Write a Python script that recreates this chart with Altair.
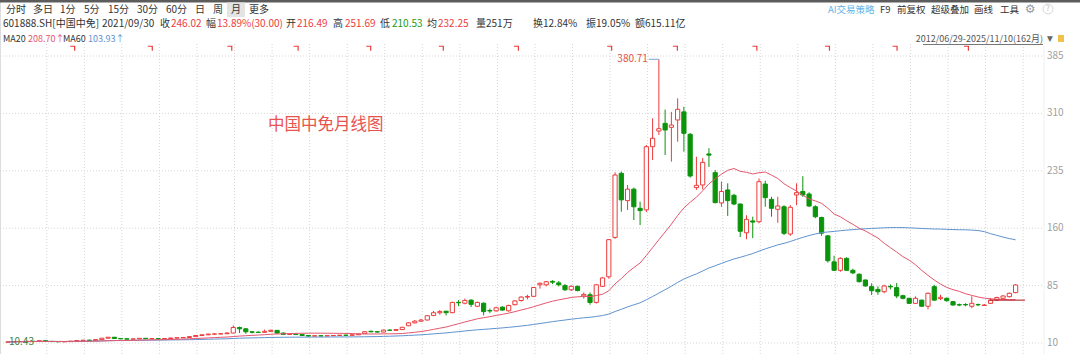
import altair as alt
import pandas as pd

# ---------------- data (monthly, index 0 = 2012-06 ... 161 = 2025-11) -------------
opens = [11.0, 11.5, 11.7, 11.9, 12.2, 12.0, 13.0, 12.1, 11.8, 11.6,
         11.8, 12.4, 13.2, 13.6, 13.4, 14.4, 16.3, 17.5, 15.8, 15.4,
         15.0, 15.3, 16.1, 15.5, 15.7, 15.4, 15.8, 16.5, 16.8, 17.2,
         18.3, 19.8, 20.7, 21.6, 21.8, 22.1, 23.0, 30.2, 28.5, 24.6,
         24.0, 23.9, 25.2, 26.5, 23.0, 21.3, 21.5, 21.0, 19.8, 19.0,
         19.4, 19.2, 19.5, 19.8, 20.2, 20.0, 20.7, 22.5, 25.3, 24.8,
         24.3, 26.8, 26.5, 27.5, 32.5, 36.3, 38.5, 40.0, 46.0, 49.5,
         51.5, 49.6, 63.2, 62.0, 66.0, 58.0, 62.0, 52.5, 52.0, 56.8,
         52.0, 60.0, 65.5, 70.0, 71.0, 86.0, 86.0, 90.5, 88.5, 85.0,
         79.5, 84.0, 71.5, 73.0, 63.0, 84.0, 96.5, 148.0, 231.7, 196.0,
         211.0, 186.0, 184.0, 266.5, 287.0, 297.0, 291.8, 301.4, 312.0, 282.7,
         213.0, 216.49, 257.0, 232.6, 193.0, 210.0, 203.0, 191.6, 154.0, 169.5,
         168.5, 217.7, 197.7, 184.7, 188.0, 152.4, 203.4, 208.0, 204.7, 188.0,
         174.0, 150.0, 116.0, 105.0, 120.6, 105.0, 99.8, 92.3, 83.6, 80.0,
         77.0, 84.0, 82.3, 71.8, 68.4, 61.8, 66.0, 58.0, 83.6, 68.0,
         68.4, 64.0, 60.0, 60.3, 58.0, 60.2, 59.0, 61.8, 66.0, 68.4,
         70.5, 75.8]
highs = [11.8, 12.0, 12.2, 12.5, 12.8, 13.2, 13.4, 12.6, 12.2, 12.0,
         12.6, 13.4, 14.0, 14.2, 14.6, 16.6, 17.8, 17.8, 16.3, 15.9,
         15.6, 16.4, 16.4, 16.0, 16.2, 16.0, 16.8, 17.2, 17.5, 18.6,
         20.0, 21.0, 22.0, 22.3, 22.6, 24.0, 33.0, 31.5, 29.5, 25.5,
         25.0, 27.5, 27.5, 27.0, 23.5, 22.0, 22.2, 21.5, 20.3, 19.8,
         20.0, 19.8, 20.2, 20.5, 20.8, 21.0, 22.0, 25.5, 26.0, 25.5,
         27.5, 27.8, 28.3, 31.0, 37.0, 40.0, 41.5, 46.5, 52.0, 53.0,
         52.0, 64.0, 66.0, 68.0, 67.0, 64.0, 63.0, 55.0, 57.5, 58.0,
         60.0, 66.0, 71.0, 73.0, 83.0, 89.0, 91.0, 92.0, 91.0, 87.0,
         85.5, 85.0, 76.0, 76.0, 87.0, 96.0, 146.0, 233.0, 234.0, 216.4,
         213.0, 194.6, 268.7, 303.6, 380.71, 315.0, 312.0, 329.7, 318.7, 284.5,
         253.4, 251.69, 264.5, 236.0, 221.0, 218.7, 205.0, 192.0, 177.0, 175.0,
         225.0, 222.0, 201.0, 201.0, 190.0, 190.3, 218.7, 228.0, 207.0, 190.0,
         175.0, 151.0, 124.0, 122.0, 122.0, 107.0, 101.0, 93.0, 88.0, 84.0,
         86.0, 86.5, 88.5, 73.0, 69.0, 71.0, 66.5, 76.0, 86.0, 73.0,
         69.5, 65.0, 61.5, 62.0, 71.0, 61.5, 61.0, 68.5, 70.5, 72.5,
         76.0, 87.0]
lows = [10.43, 11.0, 11.3, 11.5, 11.8, 11.8, 11.9, 11.5, 11.2, 11.0,
        11.6, 12.2, 12.8, 13.0, 13.2, 14.2, 15.8, 15.5, 15.0, 14.6,
        14.6, 15.0, 15.2, 15.0, 15.0, 15.0, 15.5, 16.0, 16.4, 17.0,
        18.0, 19.4, 20.2, 21.0, 21.2, 21.5, 22.6, 23.0, 22.0, 22.5,
        23.0, 23.5, 24.5, 22.0, 20.5, 20.5, 20.8, 19.5, 18.0, 18.5,
        18.8, 18.7, 19.0, 19.4, 19.8, 19.6, 20.4, 22.2, 24.0, 23.6,
        24.0, 26.0, 26.2, 27.2, 32.0, 35.5, 37.5, 39.5, 45.0, 47.0,
        46.0, 49.0, 58.0, 60.5, 57.0, 57.0, 46.0, 49.0, 51.0, 52.0,
        51.0, 59.0, 64.0, 67.0, 70.0, 81.0, 84.0, 87.0, 84.0, 78.0,
        78.0, 77.5, 68.0, 60.0, 61.5, 83.0, 94.0, 146.0, 181.6, 183.8,
        170.7, 164.0, 181.0, 249.0, 281.8, 255.6, 247.0, 273.0, 260.0, 226.0,
        210.0, 210.53, 240.0, 192.5, 188.0, 176.0, 190.0, 148.5, 145.5, 147.0,
        166.4, 188.0, 175.0, 167.0, 151.0, 150.0, 190.0, 201.0, 187.5, 173.0,
        150.0, 115.0, 104.0, 103.0, 104.0, 100.0, 89.0, 83.5, 72.7, 73.0,
        75.0, 80.0, 68.5, 67.0, 61.0, 61.0, 57.0, 54.0, 65.0, 66.0,
        64.0, 59.0, 58.0, 58.0, 55.5, 58.0, 58.5, 61.0, 65.0, 67.5,
        69.5, 75.0]
closes = [11.5, 11.7, 11.9, 12.2, 12.0, 13.0, 12.1, 11.8, 11.6, 11.8,
          12.4, 13.2, 13.6, 13.4, 14.4, 16.3, 17.5, 15.8, 15.4, 15.0,
          15.3, 16.1, 15.5, 15.7, 15.4, 15.8, 16.5, 16.8, 17.2, 18.3,
          19.8, 20.7, 21.6, 21.8, 22.1, 23.0, 30.2, 28.5, 24.6, 24.0,
          23.9, 25.2, 26.5, 23.0, 21.3, 21.5, 21.0, 19.8, 19.0, 19.4,
          19.2, 19.5, 19.8, 20.2, 20.0, 20.7, 21.7, 24.7, 24.6, 24.3,
          26.8, 26.5, 27.5, 30.5, 36.3, 38.5, 40.0, 45.6, 49.5, 51.0,
          49.6, 63.0, 62.5, 65.6, 60.5, 63.0, 51.0, 51.8, 56.0, 53.0,
          59.0, 65.0, 70.0, 70.8, 82.5, 88.0, 90.0, 89.5, 86.0, 79.5,
          84.0, 78.5, 73.5, 63.0, 86.0, 95.0, 145.0, 229.5, 197.0, 211.0,
          188.0, 183.0, 266.5, 277.5, 290.0, 288.3, 294.8, 315.4, 284.0, 228.2,
          216.02, 246.02, 255.5, 193.4, 208.0, 196.0, 191.6, 156.0, 171.6, 168.0,
          220.8, 200.0, 186.0, 189.0, 153.3, 187.3, 206.4, 203.4, 189.0, 175.0,
          153.5, 117.5, 105.0, 120.6, 105.0, 101.6, 90.1, 84.5, 78.3, 77.0,
          84.5, 83.3, 71.4, 68.4, 61.8, 68.4, 58.0, 75.0, 66.0, 69.7,
          65.3, 59.6, 59.6, 59.8, 61.8, 59.9, 59.6, 66.0, 69.3, 71.4,
          74.9, 85.8]

price_ticks = [10, 85, 160, 235, 310, 385]
grid_months = [6.2, 12.2, 18.2, 24.2, 30.2, 36.2, 42.2, 48.2, 54.2, 60.2,
               66.2, 72.2, 78.2, 84.2, 90.2, 96.2, 102.2, 108.2, 114.2, 120.2,
               126.2, 132.2, 138.2, 144.2, 150.2, 156.2, 162.2]
event_months = [10.3, 22.7, 35.4, 46.0, 57.6, 69.2, 81.2, 96.1, 106.6, 119.3,
                130.9, 141.7, 153.1]
peak_month, peak_price = 104, 380.71
low_month, low_price = 0, 10.43
level_line = {"t0": 156.8, "t1": 162.5, "v": 66.0}

RED = "#ec3b3b"
GREEN = "#0b940b"
MA20C = "#e4566e"
MA60C = "#5f93cf"
FONT = "Noto Sans CJK SC"

df = pd.DataFrame({"t": list(range(len(closes))), "open": opens, "high": highs,
                   "low": lows, "close": closes})

xs = alt.Scale(domain=[-0.475, 170.49], nice=False, zero=False)
ys = alt.Scale(domain=[-4.4, 458.2], nice=False, zero=False)
X = lambda f: alt.X(f, scale=xs, axis=None)
Y = lambda f: alt.Y(f, scale=ys, axis=None)

dummy = pd.DataFrame({"a": [0]})


def T(s, x, y, color="#333333", size=10, align="left", font=FONT):
    return alt.Chart(dummy).mark_text(text=s, align=align, baseline="middle",
                                      fontSize=size, color=color, font=font).encode(
        x=alt.value(x), y=alt.value(y))


def R(x, x2, y, y2, color):
    return alt.Chart(dummy).mark_rect(color=color).encode(
        x=alt.value(x), x2=alt.value(x2), y=alt.value(y), y2=alt.value(y2))


layers = []
layers.append(R(0, 1080, 0, 2.5, "#5c5c5c"))
layers.append(R(227, 245, 2.5, 17, "#e4e4e4"))

# grid
hgrid = alt.Chart(pd.DataFrame({"v": price_ticks})).mark_rule(
    color="#d6d6d6", strokeDash=[1, 2], strokeWidth=1).encode(
    y=Y("v:Q"), x=alt.value(0), x2=alt.value(1043))
vgrid = alt.Chart(pd.DataFrame({"t": grid_months})).mark_rule(
    color="#d6d6d6", strokeDash=[1, 2], strokeWidth=1).encode(
    x=X("t:Q"), y=alt.value(44), y2=alt.value(354))
layers += [hgrid, vgrid]
layers.append(alt.Chart(dummy).mark_rule(color="#efefef").encode(
    x=alt.value(1044), y=alt.value(46), y2=alt.value(354)))

base = alt.Chart(df)
updown = "datum.close >= datum.open"
wick = base.mark_rule(strokeWidth=1).encode(
    x=X("t:Q"), y=Y("low:Q"), y2="high:Q",
    color=alt.condition(updown, alt.value(RED), alt.value(GREEN)))
body = base.mark_bar(size=4.2, strokeWidth=1).encode(
    x=X("t:Q"), y=Y("open:Q"), y2="close:Q",
    fill=alt.condition(updown, alt.value("#ffffff"), alt.value(GREEN)),
    stroke=alt.condition(updown, alt.value(RED), alt.value(GREEN)))
ma20 = base.transform_window(ma="mean(close)", frame=[-19, 0], sort=[alt.SortField("t")]).mark_line(
    color=MA20C, strokeWidth=1).encode(x=X("t:Q"), y=Y("ma:Q"))
ma60 = base.transform_window(ma="mean(close)", frame=[-59, 0], sort=[alt.SortField("t")]).mark_line(
    color=MA60C, strokeWidth=1).encode(x=X("t:Q"), y=Y("ma:Q"))
layers += [wick, body, ma60, ma20]

lvl = alt.Chart(pd.DataFrame([level_line])).mark_rule(color="#b0121b", strokeWidth=1).encode(
    x=X("t0:Q"), x2="t1:Q", y=Y("v:Q"))
layers.append(lvl)

# right axis labels
layers.append(alt.Chart(pd.DataFrame({"v": price_ticks})).mark_text(
    align="left", baseline="middle", fontSize=10, color="#a0a0a0", font=FONT).encode(
    x=alt.value(1047), y=Y("v:Q"), text="v:Q"))

# event markers
ev_shape = "M -1 -1 L 1 -1 L 1 1"
layers.append(alt.Chart(pd.DataFrame({"t": event_months})).mark_point(
    shape=ev_shape, filled=False, size=20, color=RED, strokeWidth=1.2, opacity=1).encode(
    x=X("t:Q"), y=alt.value(48.5)))

# peak label
pk = pd.DataFrame({"t": [peak_month], "v": [peak_price], "lab": [f"{peak_price:.2f}"]})
layers.append(alt.Chart(pk).mark_text(align="right", baseline="middle", fontSize=10,
                                       color="#e5534b", font=FONT, dx=-11).encode(
    x=X("t:Q"), y=Y("v:Q"), text="lab:N"))
layers.append(alt.Chart(pk).transform_calculate(t0="datum.t - 1.6").mark_rule(
    color="#7fa7d8", strokeWidth=1).encode(x=X("t0:Q"), x2="t:Q", y=Y("v:Q")))
lw = pd.DataFrame({"t": [low_month], "v": [low_price], "lab": [f"{low_price:.2f}"]})
layers.append(alt.Chart(lw).mark_text(align="left", baseline="middle", fontSize=10,
                                       color="#3f7f3f", font=FONT, dx=1, dy=-1).encode(
    x=X("t:Q"), y=Y("v:Q"), text="lab:N"))

# chart title inside the plot
layers.append(T("中国中免月线图", 268, 125, color="#e8524f", size=16.5))

# toolbar
for s, x in [("分时", 6), ("多日", 33), ("1分", 60), ("5分", 84), ("15分", 108),
             ("30分", 137), ("60分", 166), ("日", 195), ("周", 213), ("月", 231), ("更多", 249)]:
    layers.append(T(s, x, 9.5, size=10))
layers.append(T("AI交易策略", 828, 9.5, color="#5fb4e6", size=9.5))
for s, x in [("F9", 880), ("前复权", 897), ("超级叠加", 931), ("画线", 974), ("工具", 1000)]:
    layers.append(T(s, x, 9.5, size=9.5))
layers.append(T("⚙", 1030, 9, color="#9a9a9a", size=12, align="center", font="DejaVu Sans"))
layers.append(alt.Chart(dummy).mark_point(shape="circle", size=100, filled=False,
                                           color="#c8c8c8", strokeWidth=1).encode(
    x=alt.value(1048), y=alt.value(9)))
layers.append(T("?", 1048, 9, color="#c0c0c0", size=8, align="center"))

# info row
info = [("601888.SH[中国中免]", 3, "#333333"), ("2021/09/30", 102, "#333333"),
        ("收", 160, "#333333"), ("246.02", 171, RED),
        ("幅", 206, "#333333"), ("13.89%(30.00)", 217, RED),
        ("开", 286, "#333333"), ("216.49", 297, RED),
        ("高", 333, "#333333"), ("251.69", 345, RED),
        ("低", 380, "#333333"), ("210.53", 392, "#1a9a1a"),
        ("均", 427, "#333333"), ("232.25", 438, RED),
        ("量251万", 476, "#333333"), ("换12.84%", 533, "#333333"),
        ("振19.05%", 586, "#333333"), ("额615.11亿", 635, "#333333")]
for s, x, c in info:
    layers.append(T(s, x, 24, color=c, size=10))

# MA row
for s, x, c in [("MA20", 3, "#333333"), ("208.70↑", 28, MA20C),
                ("MA60", 63, "#333333"), ("103.93↑", 88, MA60C)]:
    layers.append(T(s, x, 38.5, color=c, size=9))

layers.append(T("2012/06/29-2025/11/10(162月)", 1043, 39, color="#555555", size=9, align="right"))
layers.append(alt.Chart(dummy).mark_rule(color="#777777").encode(
    x=alt.value(923), x2=alt.value(1043), y=alt.value(44.5)))
layers.append(T("▼", 1050, 38.5, color="#666666", size=7.5, align="center", font="DejaVu Sans"))
layers.append(R(1058, 1064, 35, 42, "#f0c24a"))

chart = alt.layer(*layers).properties(
    width=1080, height=354, padding=0,
    autosize=alt.AutoSizeParams(type="none")
).configure_view(stroke=None).configure(background="#ffffff")

chart.save("out.html", embed_options={"renderer": "svg", "actions": False})
